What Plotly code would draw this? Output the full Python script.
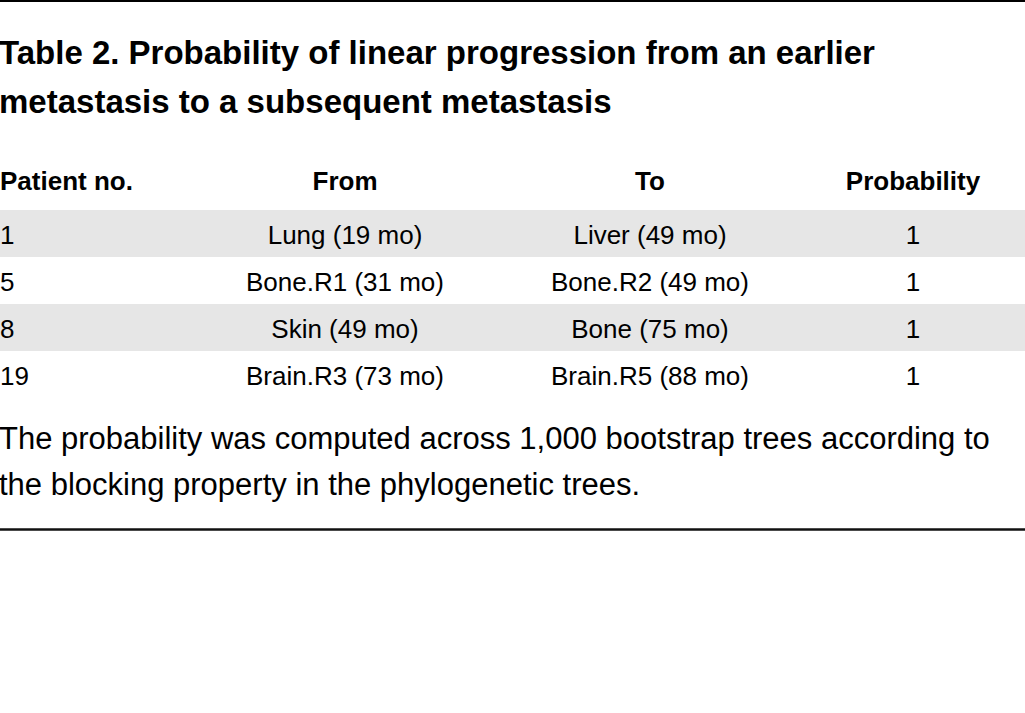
import plotly.graph_objects as go

# Table content
title_lines = [
    "Table 2. Probability of linear progression from an earlier",
    "metastasis to a subsequent metastasis",
]
headers = ["Patient no.", "From", "To", "Probability"]
patient_no = ["1", "5", "8", "19"]
from_site = ["Lung (19 mo)", "Bone.R1 (31 mo)", "Skin (49 mo)", "Brain.R3 (73 mo)"]
to_site = ["Liver (49 mo)", "Bone.R2 (49 mo)", "Bone (75 mo)", "Brain.R5 (88 mo)"]
probability = ["1", "1", "1", "1"]
footnote_lines = [
    "The probability was computed across 1,000 bootstrap trees according to",
    "the blocking property in the phylogenetic trees.",
]

W, H = 1025, 713
FONT = "Liberation Sans, Arial, sans-serif"
BAND = "#e6e6e6"
INK = "#000"

columns = [patient_no, from_site, to_site, probability]
col_x = [0, 345, 650, 913]
col_pos = ["middle right", "middle center", "middle center", "middle center"]
rows = list(range(len(patient_no)))

fig = go.Figure()

# alternating grey row bands
shaded = [r for r in rows if r % 2 == 0]
fig.add_trace(go.Bar(
    orientation="h", y=shaded, x=[W] * len(shaded), base=0, width=1,
    marker=dict(color=BAND, line=dict(width=0)), hoverinfo="skip",
))

# header
for h, x, pos in zip(headers, col_x, col_pos):
    fig.add_trace(go.Scatter(
        x=[x], y=[-1.07], mode="text", text=[f"<b>{h}</b>"], textposition=pos,
        textfont=dict(family=FONT, size=26, color=INK), hoverinfo="skip",
    ))

# body cells
for vals, x, pos in zip(columns, col_x, col_pos):
    fig.add_trace(go.Scatter(
        x=[x] * len(vals), y=[r + 0.08 for r in rows], mode="text", text=vals,
        textposition=pos, textfont=dict(family=FONT, size=26, color=INK),
        hoverinfo="skip",
    ))

# title and footnote
for i, line in enumerate(title_lines):
    fig.add_annotation(
        x=-3 / W, y=1 - (52 + 50 * i) / H, xref="paper", yref="paper",
        xanchor="left", yanchor="middle", showarrow=False,
        text=f"<b>{line}</b>", font=dict(family=FONT, size=33, color=INK),
    )
for i, line in enumerate(footnote_lines):
    fig.add_annotation(
        x=-3 / W, y=1 - (438 + 46 * i) / H, xref="paper", yref="paper",
        xanchor="left", yanchor="middle", showarrow=False,
        text=line, font=dict(family=FONT, size=31, color=INK),
    )

# top and bottom rules
fig.add_shape(type="line", xref="paper", yref="paper", x0=0, x1=1,
              y0=1 - 1 / H, y1=1 - 1 / H, line=dict(color="#000", width=2))
fig.add_shape(type="line", xref="paper", yref="paper", x0=0, x1=1,
              y0=1 - 529.5 / H, y1=1 - 529.5 / H, line=dict(color="#111", width=2.5))

fig.update_layout(
    width=W, height=H, margin=dict(l=0, r=0, t=0, b=0),
    paper_bgcolor="white", plot_bgcolor="white", showlegend=False,
    xaxis=dict(range=[0, W], visible=False, fixedrange=True),
    yaxis=dict(range=[len(rows) - 0.5, -1.5], domain=[1 - 398 / H, 1 - 163 / H],
               visible=False, fixedrange=True),
)

fig.write_html("out.html", config={"displayModeBar": False},
               post_script="document.body.style.margin='0';")
